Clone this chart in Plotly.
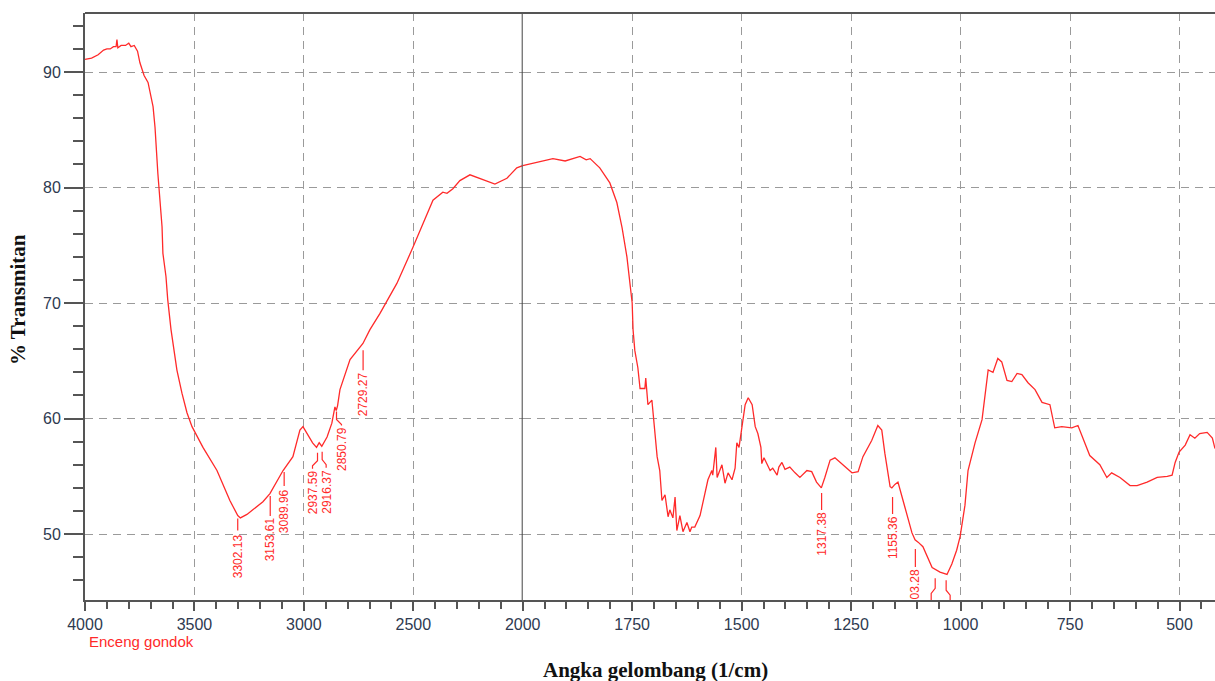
import numpy as np
import plotly.graph_objects as go

# ---------------- data ----------------
wavenumber = [
    4000, 3970, 3940, 3915, 3900, 3885, 3870, 3858, 3854, 3850, 3835, 3815, 3800, 3790, 3775,
    3760, 3749, 3740, 3730, 3712, 3700, 3689, 3680, 3667, 3648, 3644, 3630, 3622, 3607,
    3580, 3557, 3534, 3511, 3461, 3397, 3338, 3302, 3290, 3260, 3187, 3155, 3095, 3050,
    3018, 3004, 2986, 2960, 2942, 2930, 2918, 2894, 2872, 2858, 2852, 2846, 2835, 2789,
    2730, 2698, 2652, 2575, 2502, 2456, 2410, 2365, 2346, 2319, 2287, 2241, 2196, 2127,
    2072, 2027, 2000,
    1967, 1931, 1903, 1869, 1855, 1846, 1824, 1801, 1785, 1773, 1762, 1750, 1748, 1744,
    1737, 1732, 1724, 1721, 1719, 1714, 1705, 1703, 1693, 1687, 1682, 1675, 1668, 1664,
    1657, 1652, 1648, 1641, 1634, 1625, 1618, 1614, 1607, 1595, 1584, 1577, 1568, 1566,
    1559, 1556, 1545, 1538, 1531, 1522, 1515, 1511, 1506, 1499, 1492, 1485, 1476, 1469,
    1463, 1456, 1454, 1449, 1442, 1435, 1429, 1419, 1415, 1408, 1401, 1390, 1378, 1367,
    1351, 1340, 1329, 1318, 1310, 1298, 1287, 1271, 1248, 1234, 1223, 1203, 1189, 1180,
    1173, 1161, 1157, 1150, 1143, 1127, 1111, 1104, 1097, 1086, 1075, 1065, 1047, 1040,
    1031, 1020, 1009, 1001, 990, 983, 967, 951, 937, 926, 915, 906, 894, 883, 871, 860,
    846, 830, 814, 796, 785, 769, 746, 732, 721, 705, 682, 666, 655, 636, 613, 597, 574,
    551, 528, 517, 510, 501, 487, 476, 465, 454, 437, 425, 419,
]
transmittance = [
    91.1, 91.2, 91.5, 91.9, 92.0, 92.0, 92.2, 92.2, 92.8, 92.1, 92.3, 92.3, 92.5, 92.2, 92.3,
    91.8, 90.8, 90.3, 89.7, 89.1, 88.0, 87.0, 85.2, 81.2, 76.6, 74.3, 72.3, 70.3, 67.7,
    64.2, 62.2, 60.5, 59.3, 57.5, 55.5, 52.9, 51.6, 51.4, 51.7, 52.8, 53.5, 55.5, 56.7,
    59.0, 59.3, 58.7, 57.9, 57.5, 57.9, 57.6, 58.4, 59.6, 61.0, 60.7, 61.1, 62.5, 65.1,
    66.5, 67.7, 69.1, 71.7, 74.8, 76.9, 78.9, 79.6, 79.5, 79.9, 80.6, 81.1, 80.8, 80.3,
    80.8, 81.7, 81.9,
    82.2, 82.5, 82.3, 82.7, 82.4, 82.5, 81.7, 80.4, 78.7, 76.5, 74.0, 70.0, 67.7, 65.9,
    64.4, 62.6, 62.6, 62.6, 63.5, 61.2, 61.6, 60.7, 56.7, 55.5, 52.9, 53.4, 51.5, 52.1,
    51.4, 53.2, 50.3, 51.6, 50.2, 51.0, 50.2, 50.6, 50.6, 51.6, 53.5, 54.7, 55.5, 55.1,
    57.5, 54.9, 56.0, 54.4, 55.3, 54.7, 55.7, 57.9, 57.5, 59.6, 61.2, 61.8, 61.2, 59.3,
    58.7, 57.5, 56.1, 56.6, 56.0, 55.5, 55.7, 55.1, 55.8, 56.2, 55.6, 55.8, 55.3, 54.9,
    55.5, 55.4, 54.5, 54.0, 54.9, 56.4, 56.6, 56.1, 55.3, 55.4, 56.7, 58.1, 59.4, 59.0,
    57.0, 54.1, 54.0, 54.3, 54.5, 52.3, 50.1, 49.5, 49.3, 48.9, 48.0, 47.1, 46.7, 46.6,
    46.5, 47.4, 48.6, 49.8, 52.5, 55.5, 57.9, 59.9, 64.2, 64.0, 65.2, 64.9, 63.3, 63.2,
    63.9, 63.8,
    63.1, 62.5, 61.4, 61.2, 59.2, 59.3, 59.2, 59.4, 58.4, 56.8, 56.0, 54.9, 55.3, 54.9,
    54.2, 54.2, 54.5,
    54.9, 55.0, 55.1, 56.2, 57.1, 57.7, 58.6, 58.3, 58.7, 58.8, 58.3, 57.4,
]

peak_wavenumbers = [3302.13, 3153.61, 3089.96, 2937.59, 2916.37, 2850.79, 2729.27,
                    1317.38, 1155.36, 1103.28, 1058.0, 1033.0]
peak_labels = ["3302.13", "3153.61", "3089.96", "2937.59", "2916.37", "2850.79", "2729.27",
               "1317.38", "1155.36", "03.28", "", ""]

left_ticks = [4000, 3500, 3000, 2500]
right_ticks = [2000, 1750, 1500, 1250, 1000, 750, 500]
y_ticks = [50, 60, 70, 80, 90]

sample_name = "Enceng gondok"
x_title = "Angka gelombang (1/cm)"
y_title = "% Transmitan"

# ---------------- style ----------------
RED = "#ff2a2a"
AXIS = "#555555"
GRID = "#9a9a9a"
TICKFONT = dict(family="Liberation Sans, Arial", size=16, color="#2e3a50")
W, H = 1215, 681
ML, MR, MT, MB = 85, 0, 13, 81
break_px = 522.7
d1 = (break_px - ML) / (W - ML - MR)

# leader geometry per peak: (gap, length, kink_dx, text_gap)  in pixels below the curve
leader_style = [
    (3, 12, 0, 19), (3, 20, 0, 24), (3, 14, 0, 20), (7, 8, -5, 25), (6, 8, 4, 24),
    (2, 8, 5, 18), (7, 20, 0, 29), (6, 17, 0, 25), (10, 17, 0, 29), (9, 18, 0, 29),
    (9, 10, -4, 40), (6, 10, 4, 40),
]

wn = np.array(wavenumber, dtype=float)
tr = np.array(transmittance, dtype=float)
left_mask = wn >= 2000
right_mask = wn <= 2000

fig = go.Figure()
fig.add_trace(go.Scatter(x=wn[left_mask], y=tr[left_mask], mode="lines",
                         line=dict(color=RED, width=1.3), xaxis="x", yaxis="y",
                         showlegend=False, hoverinfo="x+y"))
fig.add_trace(go.Scatter(x=wn[right_mask], y=tr[right_mask], mode="lines",
                         line=dict(color=RED, width=1.3), xaxis="x2", yaxis="y",
                         showlegend=False, hoverinfo="x+y"))

# interpolation for label anchors (np.interp needs increasing x)
order = np.argsort(wn)
wn_s, tr_s = wn[order], tr[order]

shapes = []
annotations = []
for w, lab, (gap, ln, kdx, tg) in zip(peak_wavenumbers, peak_labels, leader_style):
    val = float(np.interp(w, wn_s, tr_s))
    xr = "x" if w >= 2000 else "x2"
    if kdx == 0:
        path = f"M0,{-gap} L0,{-(gap + ln)}"
    else:
        path = (f"M0,{-gap} L0,{-(gap + ln)} L{kdx},{-(gap + ln + 5)} "
                f"L{kdx},{-(tg - 2)}")
    shapes.append(dict(type="path", xref=xr, yref="y", xsizemode="pixel", ysizemode="pixel",
                       xanchor=w, yanchor=val, path=path,
                       line=dict(color=RED, width=1.2), layer="above"))
    if lab:
        annotations.append(dict(x=w, y=val, xref=xr, yref="y", text=lab, showarrow=False,
                                textangle=-90, xanchor="center", yanchor="top",
                                xshift=kdx, yshift=-tg + 2,
                                font=dict(family="Liberation Sans, Arial", size=12, color=RED)))

# break line at 2000 and top border
shapes.append(dict(type="line", xref="x", yref="paper", x0=2000, x1=2000, y0=0, y1=1,
                   line=dict(color="#444444", width=2), layer="above"))
shapes.append(dict(type="line", xref="paper", yref="paper", x0=0, x1=1, y0=1, y1=1,
                   line=dict(color=AXIS, width=2), layer="above"))

annotations.append(dict(text=f"<b>{x_title}</b>", xref="paper", yref="paper",
                        x=(655 - ML) / (W - ML - MR), y=0, yshift=-70, showarrow=False,
                        xanchor="center", yanchor="middle",
                        font=dict(family="Liberation Serif, Times New Roman", size=21,
                                  color="#111111")))
annotations.append(dict(text=f"<b>{y_title}</b>", xref="paper", yref="paper",
                        x=0, xshift=-(ML - 18), y=(600 - 300) / (H - MT - MB), showarrow=False,
                        textangle=-90, xanchor="center", yanchor="middle",
                        font=dict(family="Liberation Serif, Times New Roman", size=21,
                                  color="#111111")))
annotations.append(dict(text=sample_name, xref="paper", yref="paper", x=0.0015, y=0,
                        yshift=-41, showarrow=False, xanchor="left", yanchor="middle",
                        font=dict(family="Liberation Sans, Arial", size=15, color=RED)))

common_x = dict(showline=True, linecolor=AXIS, linewidth=2, ticks="outside", ticklen=9,
                tickcolor=AXIS, tickwidth=1.5, showgrid=True, gridcolor=GRID, gridwidth=1.2,
                griddash="8px,6px", tickfont=TICKFONT, zeroline=False, anchor="y")

fig.update_layout(
    width=W, height=H, margin=dict(l=ML, r=MR, t=MT, b=MB),
    paper_bgcolor="white", plot_bgcolor="white",
    xaxis=dict(domain=[0, d1], range=[4000, 2000], tickvals=left_ticks,
               minor=dict(dtick=100, tick0=0, ticks="outside", ticklen=7, tickcolor=AXIS,
                          showgrid=False),
               **common_x),
    xaxis2=dict(domain=[d1, 1], range=[2000, 419], tickvals=right_ticks,
                minor=dict(dtick=50, tick0=0, ticks="outside", ticklen=7, tickcolor=AXIS,
                           showgrid=False),
                **common_x),
    yaxis=dict(range=[44.29, 95.11], tickvals=y_ticks, showline=True, linecolor=AXIS,
               linewidth=2, ticks="outside", ticklen=19, tickcolor=AXIS, tickwidth=1.5,
               minor=dict(dtick=2, tick0=0, ticks="outside", ticklen=10, tickcolor=AXIS,
                          showgrid=False),
               showgrid=True, gridcolor=GRID, gridwidth=1.2, griddash="8px,6px",
               tickfont=TICKFONT, zeroline=False),
    shapes=shapes, annotations=annotations, showlegend=False,
)

fig.write_html("out.html")
